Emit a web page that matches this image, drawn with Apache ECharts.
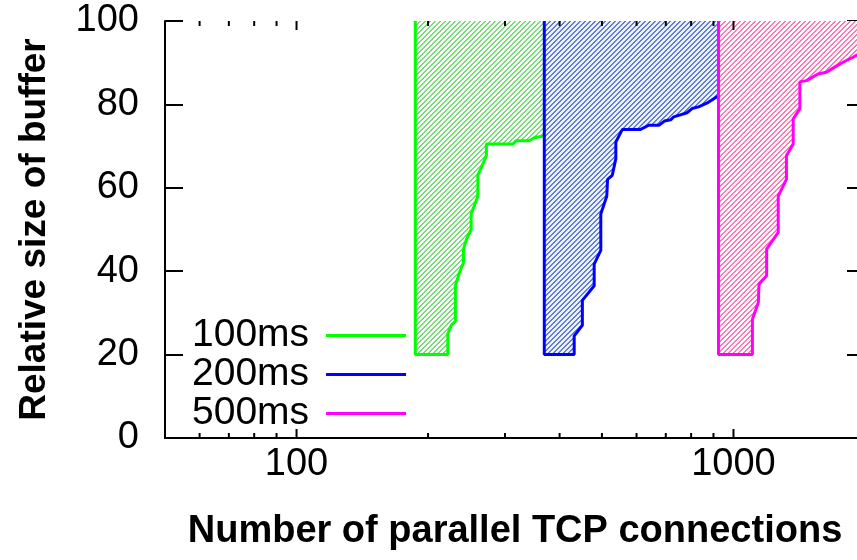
<!DOCTYPE html>
<html>
<head>
<meta charset="utf-8">
<script src="https://cdn.jsdelivr.net/npm/echarts@6/dist/echarts.min.js"></script>
<style>
  html, body { margin: 0; padding: 0; background: #fff; }
  #chart { width: 857px; height: 560px; }
</style>
</head>
<body>
<div id="chart"></div>
<script>
let names = ['100ms', '200ms', '500ms']

let x100 = [187, 187, 222, 222, 226, 231, 231, 236, 241, 241, 245, 251, 251, 260, 260, 266, 272, 272, 313, 318, 341, 350, 369]
let y100 = [100, 20, 20, 25, 27, 28, 36.5, 39.7, 42, 45.3, 47.7, 50, 53.7, 58, 63, 65.3, 67.7, 70.5, 70.5, 71.3, 71.3, 72, 72.5]

let x200 = [369, 369, 432, 432, 451, 451, 480, 480, 497, 497, 513, 515, 528, 538, 538, 557, 613, 640, 675, 695, 718, 730, 756, 783, 804, 832, 869, 913, 924]
let y200 = [100, 20, 20, 24.5, 27, 33, 36.5, 41.7, 45, 53.7, 58, 62, 63, 67, 71, 74, 74, 75, 75, 76, 76.3, 77, 77.5, 78, 79, 79.4, 80.3, 81.7, 82]

let x500 = [924, 924, 1105, 1105, 1140, 1144, 1191, 1191, 1266, 1266, 1322, 1322, 1370, 1370, 1419, 1419, 1469, 1562, 1632, 1690, 1781, 1877, 2000]
let y500 = [100, 20, 20, 28.5, 32.5, 36.9, 38.9, 45.3, 49.3, 58, 62, 67.7, 70.5, 76.5, 79, 85.4, 85.7, 87.3, 87.7, 88.7, 90.1, 91.3, 93]

let majorTicks = [100, 1000]
let minorTicks = [50, 60, 70, 80, 90, 200, 300, 400, 500, 600, 700, 800, 900, 2000]

let lineColors = ['#00ff00', '#0000ff', '#ff00ff']
let hatchColors = [['#77dd77', '#ffffff'], ['#5f7fd8', '#eef1fb'], ['#ff7ab4', '#ffffff']]

function zip (xs, ys) {
  return xs.map((x, i) => [x, ys[i]])
}

// small tile with "/" diagonal stripes
function hatch (line, gap) {
  let n = 5
  let c = document.createElement('canvas')
  c.width = n
  c.height = n
  let g = c.getContext('2d')
  g.fillStyle = gap
  g.fillRect(0, 0, n, n)
  g.fillStyle = line
  for (let x = 0; x < n; x++) {
    for (let y = 0; y < n; y++) {
      if ((x + y) % n < 2) g.fillRect(x, y, 1, 1)
    }
  }
  return c
}

let font = 'Liberation Sans, Arial, sans-serif'
let black = '#000'
let data = [zip(x100, y100), zip(x200, y200), zip(x500, y500)]

// ticks on bottom and top x axis, drawn at their log positions
let tickData = []
majorTicks.concat(minorTicks).forEach(v => {
  tickData.push([v, 0])
  tickData.push([v, 100])
})

function renderTick (params, api) {
  let v = api.value(0)
  let side = api.value(1)
  let len = majorTicks.indexOf(v) >= 0 ? 9 : 5
  let p = api.coord([v, side])
  let dir = side < 50 ? -1 : 1
  return {
    type: 'line',
    shape: { x1: p[0], y1: p[1], x2: p[0], y2: p[1] + dir * len },
    style: { stroke: black, lineWidth: 2 }
  }
}

function xAxis (position, showLabel) {
  return {
    type: 'log',
    logBase: 10,
    position: position,
    min: 50,
    max: 2000,
    axisLine: { show: true, lineStyle: { color: black, width: 2 } },
    axisTick: { show: false },
    axisLabel: {
      show: showLabel,
      showMinLabel: false,
      showMaxLabel: false,
      formatter: v => majorTicks.indexOf(Math.round(v)) >= 0 ? String(Math.round(v)) : '',
      color: black,
      fontFamily: font,
      fontSize: 38,
      margin: 8
    },
    splitLine: { show: false },
    minorTick: { show: false }
  }
}

function yAxis (position, showLabel) {
  return {
    type: 'value',
    position: position,
    min: 0,
    max: 100,
    interval: 20,
    axisLine: { show: true, lineStyle: { color: black, width: 2 } },
    axisTick: { show: true, inside: true, length: 18, lineStyle: { color: black, width: 2 } },
    axisLabel: { show: showLabel, color: black, fontFamily: font, fontSize: 38, margin: 26 },
    splitLine: { show: false }
  }
}

let xs = [xAxis('bottom', true), xAxis('top', false)]
Object.assign(xs[0], {
  name: 'Number of parallel TCP connections',
  nameLocation: 'middle',
  nameGap: 75,
  nameTextStyle: { color: black, fontFamily: font, fontSize: 38, fontWeight: 'bold' }
})

let ys = [yAxis('left', true), yAxis('right', false)]
Object.assign(ys[0], {
  name: 'Relative size of buffer',
  nameLocation: 'middle',
  nameGap: 112,
  nameTextStyle: { color: black, fontFamily: font, fontSize: 37, fontWeight: 'bold' }
})

let series = names.map((n, i) => ({
  name: n,
  type: 'line',
  xAxisIndex: 0,
  yAxisIndex: 0,
  data: data[i],
  symbol: 'none',
  showSymbol: false,
  color: lineColors[i],
  lineStyle: { color: lineColors[i], width: 3 },
  areaStyle: {
    origin: 'end',
    opacity: 1,
    color: { image: hatch(hatchColors[i][0], hatchColors[i][1]), repeat: 'repeat' }
  },
  z: 2 + i
}))

series.push({
  name: 'ticks',
  type: 'custom',
  xAxisIndex: 0,
  yAxisIndex: 0,
  data: tickData,
  renderItem: renderTick,
  clip: false,
  silent: true,
  z: 10
})

let chart = echarts.init(document.getElementById('chart'), null, { renderer: 'canvas' })

chart.setOption({
  animation: false,
  backgroundColor: '#fff',
  grid: { left: 165, width: 700, top: 21, height: 417, outerBoundsMode: 'none', containLabel: false },
  legend: {
    orient: 'vertical',
    align: 'right',
    left: 187,
    top: 311,
    padding: 5,
    itemWidth: 80,
    itemHeight: 3,
    itemGap: 0,
    icon: 'rect',
    textStyle: { color: black, fontFamily: font, fontSize: 39, lineHeight: 39, padding: [0, 12, 0, 0] },
    data: names.map((n, i) => ({ name: n, itemStyle: { color: lineColors[i] } }))
  },
  xAxis: xs,
  yAxis: ys,
  series: series
})
</script>
</body>
</html>
